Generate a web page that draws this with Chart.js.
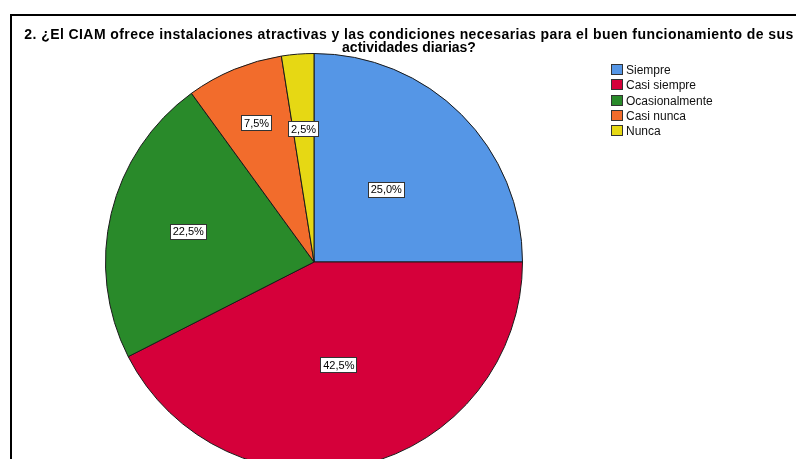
<!DOCTYPE html>
<html>
<head>
<meta charset="utf-8">
<script src="https://cdn.jsdelivr.net/npm/chart.js@4.4.0/dist/chart.umd.min.js"></script>
<style>
  html, body { margin: 0; padding: 0; width: 796px; height: 459px; overflow: hidden; background: #fff; }
  #frame { position: absolute; left: 10px; top: 14px; width: 900px; height: 600px;
           border-left: 2px solid #000; border-top: 2px solid #000; }
  #chart { position: absolute; left: 0; top: 0; }
  #title { position: absolute; left: 0; top: 28px; width: 818px; text-align: center;
           font: bold 14px "Liberation Sans", Arial, sans-serif; line-height: 13px; white-space: nowrap; color: #000; }
  #title .l1 { letter-spacing: 0.42px; }
  #legend { position: absolute; left: 611px; top: 63px; font: 12px "Liberation Sans", Arial, sans-serif; color: #111; }
  #legend .row { height: 15.25px; line-height: 15.25px; white-space: nowrap; }
  #legend .sw { display: inline-block; width: 12px; height: 11px; box-sizing: border-box;
                border: 1px solid #333; vertical-align: -1px; margin-right: 3px; }
</style>
</head>
<body>
<div id="frame"></div>
<canvas id="chart" width="796" height="480"></canvas>
<div id="title"><span class="l1">2. ¿El CIAM ofrece instalaciones atractivas y las condiciones necesarias para el buen funcionamiento de sus</span><br>actividades diarias?</div>
<div id="legend"></div>
<script>
// categorias y porcentajes
var Label = ['Siempre', 'Casi siempre', 'Ocasionalmente', 'Casi nunca', 'Nunca'];
var Porcentaje = [25.0, 42.5, 22.5, 7.5, 2.5];
var Colores = ['#5596e6', '#d5003a', '#298a2a', '#f26c2c', '#e6d814'];
// distancia de la etiqueta al centro (fraccion del radio)
var posEtiqueta = [0.49, 0.51, 0.62, 0.72, 0.64];

// leyenda
var legend = document.getElementById('legend');
Label.forEach(function (l, i) {
  var row = document.createElement('div');
  row.className = 'row';
  row.innerHTML = '<span class="sw" style="background:' + Colores[i] + '"></span>' + l;
  legend.appendChild(row);
});

// etiquetas con recuadro blanco
var etiquetas = {
  id: 'etiquetas',
  afterDatasetsDraw: function (chart) {
    var ctx = chart.ctx;
    var meta = chart.getDatasetMeta(0);
    ctx.save();
    ctx.font = '11px "Liberation Sans", Arial, sans-serif';
    ctx.textAlign = 'center';
    ctx.textBaseline = 'middle';
    meta.data.forEach(function (arc, i) {
      var a = (arc.startAngle + arc.endAngle) / 2;
      var r = arc.outerRadius * posEtiqueta[i];
      var x = arc.x + Math.cos(a) * r;
      var y = arc.y + Math.sin(a) * r;
      var txt = Porcentaje[i].toFixed(1).replace('.', ',') + '%';
      var w = ctx.measureText(txt).width + 6;
      var h = 16;
      ctx.fillStyle = '#fff';
      ctx.fillRect(Math.round(x - w / 2), Math.round(y - h / 2), Math.round(w), h);
      ctx.strokeStyle = '#333';
      ctx.lineWidth = 1;
      ctx.strokeRect(Math.round(x - w / 2) + 0.5, Math.round(y - h / 2) + 0.5, Math.round(w) - 1, h - 1);
      ctx.fillStyle = '#000';
      ctx.fillText(txt, x, y + 0.5);
    });
    ctx.restore();
  }
};

var context = document.getElementById('chart').getContext('2d');
new Chart(context, {
  type: 'pie',
  data: {
    labels: Label,
    datasets: [{
      data: Porcentaje,
      backgroundColor: Colores,
      borderColor: '#1a1a1a',
      borderWidth: 1
    }]
  },
  options: {
    responsive: false,
    animation: false,
    layout: { padding: { left: 105, right: 273, top: 53, bottom: 9 } },
    plugins: {
      legend: { display: false },
      title: { display: false },
      tooltip: { enabled: false }
    }
  },
  plugins: [etiquetas]
});
</script>
</body>
</html>
